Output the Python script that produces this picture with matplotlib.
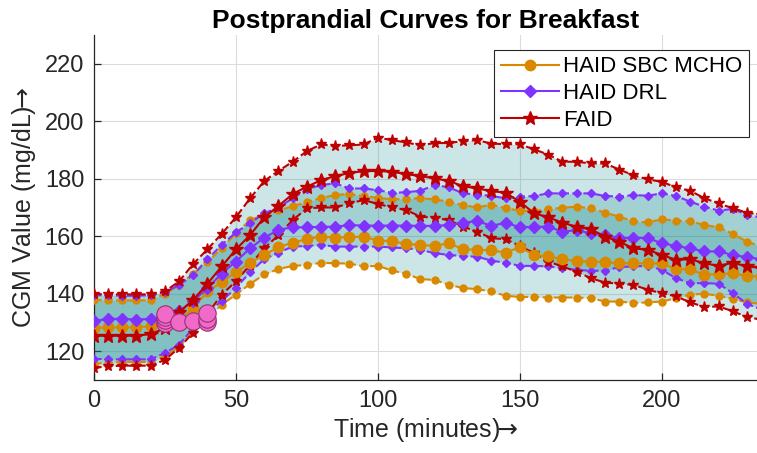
import numpy as np
import matplotlib
matplotlib.use("Agg")
import matplotlib.pyplot as plt

# ── data ───────────────────────────────────────────────────────────────────
minutes = list(range(0, 240, 5))

sbc_mean = [128.1, 128.3, 128.3, 128.3, 128.7, 129.5, 131.0, 135.0, 140.8, 144.0,
            147.5, 150.7, 153.5, 156.2, 157.8, 159.0, 159.9, 159.5, 159.7, 159.9,
            158.5, 158.3, 157.3, 157.0, 156.6, 157.6, 155.5, 155.3, 155.1, 154.3,
            156.2, 153.5, 153.0, 152.0, 151.3, 151.2, 151.0, 150.6, 150.6, 150.6,
            150.6, 148.6, 148.5, 146.6, 146.9, 147.1, 146.2, 146.0]
sbc_upper = [137.9, 137.7, 137.7, 137.7, 137.7, 140.0, 143.0, 147.0, 151.0, 155.8,
             161.0, 165.6, 167.5, 169.0, 170.4, 171.9, 173.3, 174.3, 174.7, 173.9,
             173.4, 172.8, 173.0, 173.2, 172.8, 172.0, 170.8, 170.0, 171.0, 169.7,
             168.9, 168.8, 169.4, 169.9, 170.3, 169.7, 168.2, 166.8, 165.2, 164.8,
             165.9, 165.4, 165.2, 163.9, 163.1, 160.8, 158.1, 156.5]
sbc_lower = [115.7, 116.0, 116.3, 116.3, 116.3, 118.3, 121.5, 127.0, 131.5, 136.2,
             139.7, 143.4, 146.7, 148.6, 149.7, 150.0, 150.8, 150.6, 150.5, 149.5,
             149.7, 148.1, 146.9, 145.1, 144.8, 143.1, 142.0, 141.6, 140.8, 139.3,
             138.9, 138.9, 138.7, 138.7, 138.7, 138.5, 137.3, 137.3, 136.8, 137.0,
             137.3, 138.5, 139.7, 140.0, 139.3, 138.2, 137.0, 136.5]

drl_mean = [130.5, 131.3, 131.3, 131.0, 131.3, 132.0, 134.0, 137.5, 142.0, 147.0,
            151.2, 155.8, 159.5, 162.2, 163.1, 163.1, 163.3, 163.3, 163.9, 163.7,
            163.7, 163.7, 163.7, 163.6, 163.6, 163.9, 164.7, 165.3, 163.6, 164.7,
            163.1, 163.3, 163.3, 161.6, 162.1, 161.0, 160.4, 159.3, 159.5, 159.3,
            157.6, 156.6, 155.8, 154.7, 154.7, 153.5, 152.7, 152.0]
drl_upper = [139.5, 139.5, 139.3, 139.3, 139.5, 140.5, 143.0, 146.6, 152.0, 157.0,
             161.3, 164.5, 168.0, 170.0, 173.2, 176.3, 177.8, 178.4, 176.6, 176.6,
             176.0, 175.1, 175.3, 175.8, 177.8, 177.0, 174.9, 174.5, 174.0, 173.2,
             173.7, 174.0, 174.9, 174.9, 174.9, 174.9, 174.0, 173.8, 174.3, 174.1,
             174.9, 174.0, 172.0, 170.3, 168.9, 169.5, 167.4, 166.5]
drl_lower = [117.4, 117.2, 117.2, 117.2, 117.2, 119.4, 122.3, 128.1, 133.5, 137.5,
             142.0, 147.5, 152.0, 154.3, 156.4, 156.6, 157.0, 156.4, 156.4, 156.4,
             156.4, 156.1, 155.8, 155.3, 154.1, 153.5, 153.1, 152.9, 151.5, 150.8,
             149.7, 149.7, 149.5, 148.9, 148.3, 148.0, 148.0, 149.3, 149.5, 149.7,
             148.3, 145.4, 143.7, 143.7, 143.5, 140.2, 136.5, 134.5]

faid_mean = [125.4, 125.4, 125.4, 125.4, 126.0, 128.0, 133.5, 137.9, 143.5, 149.5,
             155.4, 160.4, 166.6, 170.5, 174.7, 177.2, 179.5, 180.9, 182.0, 182.6,
             182.7, 182.4, 181.6, 180.9, 180.1, 179.2, 177.4, 176.6, 175.7, 175.1,
             172.0, 168.0, 166.6, 164.7, 163.3, 162.4, 159.9, 158.1, 155.8, 155.3,
             153.5, 151.8, 152.0, 150.6, 149.7, 150.8, 149.5, 149.0]
faid_upper = [140.0, 139.8, 139.8, 139.8, 139.8, 140.8, 144.3, 150.4, 155.5, 160.8,
              166.6, 173.2, 179.2, 182.7, 185.9, 189.6, 191.9, 191.4, 191.6, 191.9,
              194.3, 193.4, 192.6, 191.6, 192.4, 192.4, 193.1, 193.4, 192.2, 192.0,
              192.0, 190.2, 188.4, 185.9, 185.9, 185.3, 185.3, 183.2, 181.2, 179.8,
              178.9, 177.0, 175.8, 173.2, 171.4, 169.7, 168.2, 167.5]
faid_lower = [114.2, 114.8, 115.0, 115.0, 115.0, 117.0, 121.2, 126.5, 133.0, 139.7,
              144.3, 150.0, 155.8, 160.4, 165.6, 169.7, 170.0, 170.0, 171.4, 172.6,
              171.2, 170.0, 169.1, 166.8, 166.4, 165.6, 163.3, 161.6, 159.3, 159.0,
              156.6, 154.1, 151.2, 149.5, 147.7, 145.4, 143.9, 143.5, 143.1, 141.4,
              140.2, 139.1, 137.0, 135.4, 135.6, 133.9, 131.9, 131.0]

meal_t = [25, 25, 25, 25, 30, 35, 40, 40, 40]
meal_v = [130.0, 131.0, 132.0, 133.0, 130.3, 130.6, 130.2, 131.3, 133.2]

labels = ["HAID SBC MCHO", "HAID DRL", "FAID"]

# ── style ─────────────────────────────────────────────────────────────────
plt.rcParams["font.family"] = ["Liberation Sans", "DejaVu Sans"]
ink = "#262626"
colors = ["#D98900", "#8033FF", "#BF0000"]
band_color = "#008085"

series = [
    (sbc_mean, sbc_upper, sbc_lower, "o", 7.5, 5.0),
    (drl_mean, drl_upper, drl_lower, "D", 6.0, 4.3),
    (faid_mean, faid_upper, faid_lower, "*", 10.5, 8.0),
]

fig = plt.figure(figsize=(7.57, 4.53), dpi=100)
ax = fig.add_axes([0.124, 0.161, 0.876, 0.762])

t = np.array(minutes)
for (m, up, lo, mk, big, small), c in zip(series, colors):
    ax.fill_between(t, lo, up, color=band_color, alpha=0.2, lw=0, zorder=1)

for (m, up, lo, mk, big, small), c, lab in zip(series, colors, labels):
    ax.plot(t, up, "--", color=c, lw=1.5, marker=mk, ms=small, zorder=3)
    ax.plot(t, lo, "--", color=c, lw=1.5, marker=mk, ms=small, zorder=3)
    ax.plot(t, m, "-", color=c, lw=1.5, marker=mk, ms=big, label=lab, zorder=4)

ax.plot(meal_t, meal_v, "o", ls="none", ms=12.5, mfc="#F06AC8",
        mec="#9A2F78", mew=0.8, zorder=5)

ax.set_xlim(0, 233.5)
ax.set_ylim(110, 230)
ax.set_xticks([0, 50, 100, 150, 200])
ax.set_yticks([120, 140, 160, 180, 200, 220])
ax.grid(True, color="#dcdcdc", lw=0.8)
ax.set_axisbelow(True)
for s in ["top", "right"]:
    ax.spines[s].set_visible(False)
for s in ["left", "bottom"]:
    ax.spines[s].set_color(ink)
    ax.spines[s].set_linewidth(0.9)
ax.tick_params(direction="in", length=5, width=0.9, colors=ink,
               labelsize=17, pad=7)

ax.set_title("Postprandial Curves for Breakfast", fontsize=19, fontweight="bold",
             pad=5)
ax.set_xlabel(r"Time (minutes)$\!\!\rightarrow$", fontsize=18, color=ink, labelpad=3)
ax.set_ylabel(r"CGM Value (mg/dL)$\!\!\rightarrow$", fontsize=18, color=ink, labelpad=5)

leg = ax.legend(loc="upper right", bbox_to_anchor=(0.988, 0.957), fontsize=16,
                numpoints=1, handlelength=2.6, handletextpad=0.2,
                borderpad=0.3, labelspacing=0.25, fancybox=False,
                framealpha=1, edgecolor=ink, borderaxespad=0)
leg.get_frame().set_linewidth(0.8)

fig.savefig("out.png", dpi=100)
